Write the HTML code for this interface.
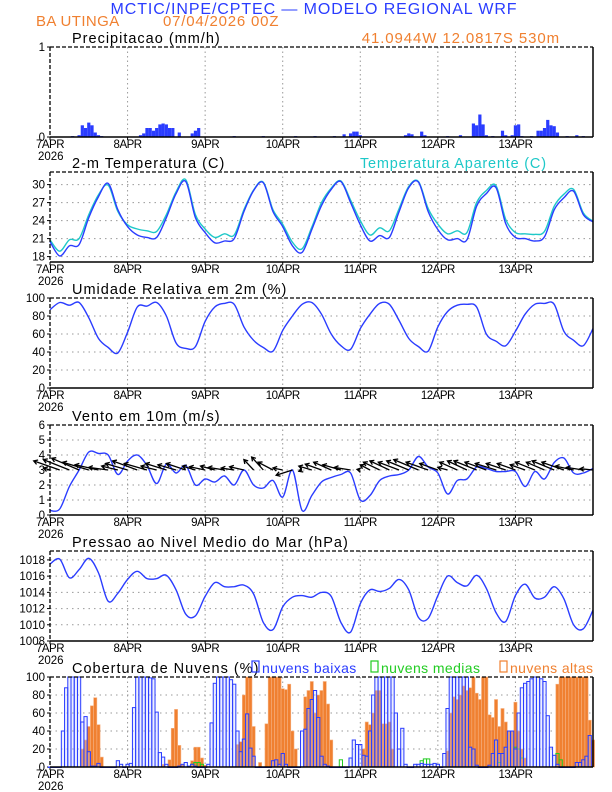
<!DOCTYPE html>
<html><head><meta charset="utf-8"><style>
html,body{margin:0;padding:0;background:#fff;}
svg{display:block;font-family:"Liberation Sans",sans-serif;}
</style></head><body>
<svg id="chart" width="612" height="792" viewBox="0 0 612 792" xmlns="http://www.w3.org/2000/svg">
<text x="314" y="14" text-anchor="middle" font-size="16" fill="#2a3cff" letter-spacing="0.9">MCTIC/INPE/CPTEC — MODELO REGIONAL WRF</text>
<text x="36" y="26" font-size="15" fill="#f08030" letter-spacing="0.4">BA UTINGA</text>
<text x="163" y="26" font-size="15" fill="#f08030" letter-spacing="0.8">07/04/2026 00Z</text>
<text x="560" y="43" text-anchor="end" font-size="15" fill="#f08030" letter-spacing="0.9">41.0944W 12.0817S 530m</text>
</svg>
<script>
const hours3=[0,3,6,9,12,15,18,21,24,27,30,33,36,39,42,45,48,51,54,57,60,63,66,69,72,75,78,81,84,87,90,93,96,99,102,105,108,111,114,117,120,123,126,129,132,135,138,141,144,147,150,153,156,159,162,165,168];
const tempValues=[20.5,18.1,19.8,20.0,24.5,28,30.2,25.8,23,21.6,21.2,21.2,24.5,28.5,30.5,24.5,22,20.3,20.6,21,25.5,29,30.3,25.5,23,19.8,18.7,22.5,26.5,29.2,30.5,27,23.3,20.6,21.5,21.2,25.5,29.5,30.4,25.5,22.5,20.8,21,20.8,26.4,28.5,29.5,23.5,21.2,21,20.6,21.3,25.8,27.8,28.9,25,23.8];
const apparentValues=[20.8,18.9,20.8,21.0,25,28.3,29.9,25.5,23.3,22.6,22.3,22.2,25,28.8,30.8,25,22.6,21.2,21.8,21.6,25.8,29.1,30.4,25.8,23.4,20.4,19.3,22.9,27,29.4,30.6,27.4,24,21.6,22.8,22.3,26,29.7,30.5,26,23.4,21.8,22.3,22,27,29,29.8,24.2,22,21.8,21.7,22.2,26.4,28.4,29.2,25.3,23.9];
const rhValues=[87,95,92,95,78,55,45,39,62,90,91,95,80,50,44,46,74,90,94,93,68,53,45,41,64,80,93,95,82,60,47,43,66,82,94,93,75,55,46,41,68,85,92,93,90,60,52,47,63,82,93,94,93,63,53,47,66];
const windSpeed=[0.3,0.4,1.9,3.0,4.2,4.1,4.0,2.7,3.6,4.0,3.3,2.1,3.4,2.8,3.3,2.0,2.4,2.2,2.6,2.0,3.0,2.0,1.8,2.3,1.2,3.0,0.3,1.3,2.2,2.5,2.7,2.8,1.0,1.3,2.3,2.6,2.7,3.0,3.9,3.2,2.8,1.4,2.3,2.4,3.2,3.1,2.9,2.9,2.9,1.9,2.9,2.4,3.5,3.8,2.8,2.8,3.1];
const windU=[-1,-4,-4,-4.2,-4,-3.6,-3,-2.5,-3.4,-3.8,-3.5,-2.4,-3.2,-2.8,-3,-2,-2.4,-2.2,-2.5,-2,-2.2,-1.5,-1.8,-2.3,-1.5,-2.5,-0.5,-2,-2.5,-2.7,-2.8,-2.5,-0.5,-1.5,-2.5,-3,-3.2,-3.4,-3.8,-3.4,-2.8,-1.5,-2.7,-3,-3.5,-3.3,-3.2,-3,-2.8,-2.3,-3,-2.8,-3.4,-3.4,-2.8,-2.6,-2];
const windV=[0.3,1.4,1.6,1.8,1.2,0.8,0.4,0.6,1.0,1.4,1.0,0.6,1.0,0.8,1.0,0.6,0.5,0.6,0.4,0.3,0.5,1.6,2.0,1.2,0.3,-0.8,-0.2,0.6,0.9,1.2,0.8,0.4,0.1,0.8,1.2,1.4,1.2,1.4,1.6,1.2,1.0,0.4,1.2,1.4,1.4,1.2,1.0,1.0,1.0,0.8,1.2,1.2,1.4,1.2,0.6,0.4,0.2];
const pressureValues=[1017.5,1018.1,1015.8,1016.8,1018.2,1016.4,1012.9,1013.9,1015.6,1016.6,1015.7,1015.7,1016.1,1014.3,1011.3,1011.1,1013.5,1015.2,1014.7,1014.7,1014.9,1013.8,1010.3,1009.4,1012.2,1013.4,1013.6,1013.4,1014,1013.5,1010.3,1009.1,1012.6,1014.3,1014.1,1014.5,1015.6,1014.3,1010.9,1010.8,1013.6,1016,1015.2,1014.8,1016.1,1014.5,1011.5,1010.4,1013.6,1015,1013.3,1013.4,1014.7,1013.2,1010,1009.5,1011.8];
const precipHours=[7,9,10,11,12,13,14,15,16,28,29,30,31,32,33,34,35,36,37,38,40,44,45,46,57,66,76,82,88,91,93,94,95,96,110,111,112,115,116,123,127,131,132,133,134,135,137,140,141,143,144,145,146,149,151,152,153,154,155,156,157,160,163,165];
const precipValues=[0.01,0.02,0.13,0.10,0.16,0.13,0.05,0.02,0.01,0.02,0.04,0.10,0.10,0.07,0.10,0.14,0.15,0.14,0.10,0.10,0.05,0.04,0.07,0.10,0.01,0.01,0.01,0.01,0.01,0.03,0.04,0.06,0.06,0.02,0.02,0.04,0.03,0.06,0.02,0.01,0.02,0.15,0.13,0.25,0.14,0.02,0.01,0.07,0.02,0.02,0.13,0.14,0.01,0.01,0.07,0.07,0.10,0.19,0.13,0.12,0.05,0.01,0.02,0.01];
const lowClouds=[0,0,0,0,40,88,100,100,100,100,50,56,17,1,1,4,0,0,0,0,0,7,3,0,3,4,66,100,100,100,100,99,98,61,16,11,3,0,0,0,1,3,5,1,3,1,0,0,0,3,49,93,100,100,100,100,97,92,40,17,31,59,21,12,0,0,0,0,0,7,8,3,15,3,0,0,0,0,40,42,65,75,85,55,12,3,1,0,0,0,0,0,0,10,30,25,25,13,12,40,80,100,100,100,100,100,100,60,20,43,3,0,0,3,3,4,3,3,3,4,3,0,15,65,100,100,100,100,100,100,22,20,2,0,0,0,2,15,30,15,15,22,40,40,20,60,88,93,95,98,100,100,98,95,57,22,13,3,0,0,0,0,0,5,5,8,12,35];
const midClouds=[0,0,0,0,0,0,0,0,0,0,0,0,0,0,0,0,0,0,0,0,0,0,0,0,0,0,0,0,0,0,0,0,0,0,0,0,0,0,0,0,0,0,0,0,3,5,5,3,0,0,0,0,0,0,0,0,0,0,0,0,0,0,0,0,0,0,0,0,0,0,0,0,0,0,0,0,0,0,0,0,0,0,0,0,0,0,0,0,0,0,8,0,0,0,0,0,0,0,0,0,0,0,0,0,0,0,0,0,0,0,0,0,0,0,0,7,9,9,0,0,0,0,0,0,0,0,0,0,0,0,0,0,0,0,0,0,0,0,0,5,0,0,0,0,22,20,10,0,0,0,0,0,0,0,0,0,0,15,8,0,0,0,0,0,0,0,0,0,0];
const highClouds=[0,0,0,0,0,0,0,0,0,0,20,30,45,68,77,47,11,0,0,0,0,0,0,0,0,0,0,0,0,0,0,0,0,0,0,3,0,8,43,64,24,3,0,0,7,22,22,10,2,0,0,0,0,0,0,0,0,0,25,28,80,100,100,45,0,5,0,48,100,100,100,100,87,86,92,40,20,0,0,78,85,95,60,80,85,95,70,30,0,0,0,0,0,0,0,0,0,20,50,47,60,85,85,48,48,50,20,0,0,0,0,0,0,0,0,0,0,0,0,0,0,0,0,18,60,78,75,80,90,85,88,100,82,75,100,100,58,55,75,45,65,50,40,40,72,40,20,10,0,0,0,0,0,0,0,0,0,92,100,100,100,100,100,100,100,100,100,52,30];
const dayLabels=["7APR","8APR","9APR","10APR","11APR","12APR","13APR"];
const precipTicks=[0,1];
const tempTicks=[18,21,24,27,30];
const rhTicks=[0,20,40,60,80,100];
const windTicks=[0,1,2,3,4,5,6];
const presTicks=[1008,1010,1012,1014,1016,1018];
const cloudTicks=[0,20,40,60,80,100];

const NS="http://www.w3.org/2000/svg";
const svg=document.getElementById('chart');
const X0=50,X1=593,HMAX=168,PH=90;
const BLUE="#2a3cff",CYAN="#1ec8c8",ORANGE="#f08030",GREEN="#22cc22";
function xs(h){return X0+(X1-X0)*h/HMAX;}
function mk(tag,attrs,parent){const e=document.createElementNS(NS,tag);for(const k in attrs)e.setAttribute(k,attrs[k]);(parent||svg).appendChild(e);return e;}
function panel(top,min,max,ticks,title,name,fmt){
  const g=mk('g',{});
  
  
  const ys=v=>top+PH-(v-min)/(max-min)*PH;
  for(let d=1;d<7;d++){const l=mk('line',{x1:xs(d*24),x2:xs(d*24),y1:top,y2:top+PH,stroke:'#999','stroke-dasharray':'1.5,3','stroke-width':1},g);}
  ticks.forEach(t=>{
    if(t>min&&t<max){const l=mk('line',{x1:X0,x2:X1,y1:ys(t),y2:ys(t),stroke:'#999','stroke-dasharray':'1.5,4','stroke-width':1},g);}
    const tx=mk('text',{x:X0-5,y:ys(t)+4,'text-anchor':'end','font-size':11.5,fill:'#000'},g);tx.textContent=fmt?fmt(t):t;
    
    
    mk('line',{x1:X0-3,x2:X0,y1:ys(t),y2:ys(t),stroke:'#000'},g);
  });
  dayLabels.forEach((lab,i)=>{
    const tx=mk('text',{x:xs(i*24),y:top+PH+11,'text-anchor':'middle','font-size':11.5,fill:'#000','letter-spacing':'-0.5'},g);tx.textContent=lab;
    
    
    mk('line',{x1:xs(i*24),x2:xs(i*24),y1:top+PH,y2:top+PH+3,stroke:'#000'},g);
  });
  const yr=mk('text',{x:X0-12,y:top+PH+23,'font-size':11.5,fill:'#000'},g);yr.textContent='2026';
  
  
  const tt=mk('text',{x:72,y:top-4,'font-size':14.5,fill:'#000','letter-spacing':'1'},g);tt.textContent=title;
  
  
  const plot=mk('g',{},g);
  return {g,plot,ys,top,finish(){
    mk('line',{x1:X0,x2:X1,y1:top,y2:top,stroke:'#000','stroke-dasharray':'4,2','stroke-width':1.3},g);
    mk('line',{x1:X0,x2:X0,y1:top,y2:top+PH,stroke:'#000','stroke-dasharray':'4,2','stroke-width':1.3},g);
    mk('line',{x1:X1,x2:X1,y1:top,y2:top+PH,stroke:'#000','stroke-width':1.5},g);
    mk('line',{x1:X0,x2:X1,y1:top+PH,y2:top+PH,stroke:'#000','stroke-width':1.5},g);
  }};
}
function line(p,hs,vals,color,name){
  const pts=vals.map((v,i)=>[xs(hs[i]),p.ys(v)]);
  let d='M'+pts[0][0].toFixed(1)+','+pts[0][1].toFixed(1);
  for(let i=0;i<pts.length-1;i++){
    const p0=pts[Math.max(i-1,0)],p1=pts[i],p2=pts[i+1],p3=pts[Math.min(i+2,pts.length-1)];
    const c1=[p1[0]+(p2[0]-p0[0])/6,p1[1]+(p2[1]-p0[1])/6],c2=[p2[0]-(p3[0]-p1[0])/6,p2[1]-(p3[1]-p1[1])/6];
    d+='C'+c1[0].toFixed(1)+','+c1[1].toFixed(1)+' '+c2[0].toFixed(1)+','+c2[1].toFixed(1)+' '+p2[0].toFixed(1)+','+p2[1].toFixed(1);
  }
  const e=mk('path',{d,fill:'none',stroke:color,'stroke-width':1.4,'stroke-linejoin':'round'},p.plot);
  
  
}
// Precip
let p=panel(47,0,1,precipTicks,'Precipitacao (mm/h)','precipitation');
precipHours.forEach((h,i)=>{const y=p.ys(precipValues[i]);const r=mk('rect',{x:xs(h)-1.6,y,width:3.2,height:p.top+PH-y,fill:BLUE},p.plot);
  
  });
p.finish();
// Temperature
p=panel(172,17.1,32.1,tempTicks,'2-m Temperatura (C)','temperature');
line(p,hours3,apparentValues,CYAN,'apparent-temperature-line');
line(p,hours3,tempValues,BLUE,'temperature-line');
const lg=mk('text',{x:360,y:168,'font-size':14.5,fill:CYAN,'letter-spacing':'0.8'});lg.textContent='Temperatura Aparente (C)';


p.finish();
// RH
p=panel(298,0,100,rhTicks,'Umidade Relativa em 2m (%)','humidity');
line(p,hours3,rhValues,BLUE,'humidity-line');
p.finish();
// Wind
p=panel(425,0,6,windTicks,'Vento em 10m (m/s)','wind');
line(p,hours3,windSpeed,BLUE,'wind-speed-line');
const K=6.5;
hours3.forEach((h,i)=>{
  const x0=xs(h),y0=p.ys(3),x1=x0+windU[i]*K,y1=y0-windV[i]*K;
  const a=Math.atan2(y1-y0,x1-x0),L=4.5;
  const d=`M${x0},${y0}L${x1},${y1}M${x1+L*Math.cos(a+2.6)},${y1+L*Math.sin(a+2.6)}L${x1},${y1}L${x1+L*Math.cos(a-2.6)},${y1+L*Math.sin(a-2.6)}`;
  const e=mk('path',{d,stroke:'#000','stroke-width':1.3,fill:'none'},p.plot);
  
  
});
p.finish();
// Pressure
p=panel(551,1008,1019.1,presTicks,'Pressao ao Nivel Medio do Mar (hPa)','pressure');
line(p,hours3,pressureValues,BLUE,'pressure-line');
p.finish();
// Clouds
p=panel(677,0,100,cloudTicks,'Cobertura de Nuvens (%)','clouds');
const bw=3.2;
highClouds.forEach((v,h)=>{if(!v)return;const y=p.ys(v);const r=mk('rect',{x:xs(h)-bw/2,y,width:bw,height:p.top+PH-y,fill:ORANGE,stroke:'#f6b080','stroke-width':0.6},p.plot);
  
  });
midClouds.forEach((v,h)=>{if(!v)return;const y=p.ys(v);const r=mk('rect',{x:xs(h)-bw/2,y,width:bw,height:p.top+PH-y,fill:'none',stroke:GREEN,'stroke-width':1},p.plot);
  
  });
lowClouds.forEach((v,h)=>{const y=p.ys(v);const r=mk('rect',{x:xs(h)-bw/2,y,width:bw,height:Math.max(p.top+PH-y,0.5),fill:'rgba(200,210,255,0.35)',stroke:BLUE,'stroke-width':1},p.plot);
  
  });
const legItems=[["nuvens baixas",BLUE,252],["nuvens medias",GREEN,371],["nuvens altas",ORANGE,500]];
legItems.forEach(([t,c,x])=>{
  const b=mk('rect',{x,y:661,width:7,height:11,fill:'none',stroke:c,'stroke-width':1.2});
  
  
  const tx=mk('text',{x:x+10,y:673,'font-size':14,fill:c,'letter-spacing':'0.4'});tx.textContent=t;
  
  
});
p.finish();
</script>
</body></html>
